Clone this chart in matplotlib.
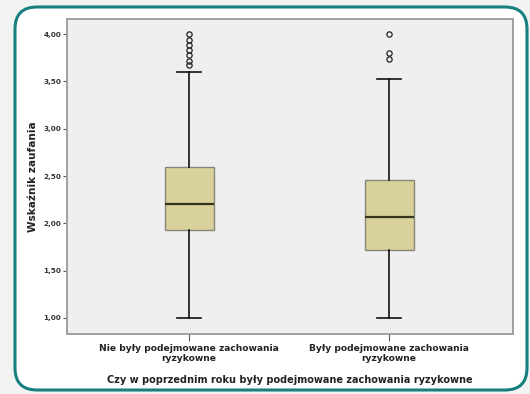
import matplotlib
matplotlib.use("Agg")
import matplotlib.pyplot as plt
from matplotlib.patches import FancyBboxPatch
from matplotlib.transforms import IdentityTransform

# Data: five-number summaries of the trust index per group
groups = ["Nie były podejmowane zachowania\nryzykowne",
          "Były podejmowane zachowania\nryzykowne"]
q1 = [1.93, 1.72]
median = [2.20, 2.07]
q3 = [2.60, 2.46]
whisker_low = [1.00, 1.00]
whisker_high = [3.60, 3.53]
outliers = [
    [4.00, 3.94, 3.89, 3.83, 3.78, 3.72, 3.67],
    [4.00, 3.80, 3.74],
]
y_ticks = [1.0, 1.5, 2.0, 2.5, 3.0, 3.5, 4.0]
y_tick_labels = ["1,00", "1,50", "2,00", "2,50", "3,00", "3,50", "4,00"]
y_label = "Wskaźnik zaufania"
x_label = "Czy w poprzednim roku były podejmowane zachowania ryzykowne"

W, H, DPI = 530, 394, 100
fig = plt.figure(figsize=(W / DPI, H / DPI), dpi=DPI, facecolor="#f1f2f2")

# Rounded white card with a teal border, kept behind the axes
card = FancyBboxPatch((15, 4), 512, 383,
                      boxstyle="round,pad=0,rounding_size=22",
                      transform=IdentityTransform(),
                      facecolor="white", edgecolor="#17807f", linewidth=2.2,
                      zorder=-10)
fig.patches.append(card)

ax = fig.add_axes([67 / W, 1 - 334 / H, (513 - 67) / W, (334 - 19) / H])
ax.set_zorder(5)
ax.set_facecolor("#efeff0")

stats = []
for i, g in enumerate(groups):
    stats.append(dict(label=g, med=median[i], q1=q1[i], q3=q3[i],
                      whislo=whisker_low[i], whishi=whisker_high[i],
                      fliers=outliers[i]))

ax.bxp(stats, positions=[1, 2], widths=0.245, patch_artist=True,
       boxprops=dict(facecolor="#d9d19c", edgecolor="#85857a", linewidth=1.0),
       medianprops=dict(color="#33331e", linewidth=1.6),
       whiskerprops=dict(color="#111111", linewidth=1.2),
       capprops=dict(color="#111111", linewidth=1.2),
       flierprops=dict(marker="o", markersize=3.8, markerfacecolor="none",
                       markeredgecolor="#222222", markeredgewidth=0.9))

ax.set_xlim(0.39, 2.62)
ax.set_ylim(0.83, 4.16)
ax.set_yticks(y_ticks)
ax.set_yticklabels(y_tick_labels, fontsize=5.2, fontweight="bold",
                   color="#333333")
ax.set_xticks([1, 2])
ax.set_xticklabels(groups, fontsize=6.6, fontweight="bold", color="#222222",
                   linespacing=1.15)
ax.tick_params(axis="y", length=3, width=0.8, color="#555555", pad=1)
ax.tick_params(axis="x", length=5, width=0.8, color="#555555", pad=2)

for s in ax.spines.values():
    s.set_color("#a0a0a0")
    s.set_linewidth(1.4)

ax.set_ylabel(y_label, fontsize=7.6, fontweight="bold", color="#222222",
              labelpad=4)
fig.text(290 / W, 1 - 380 / H, x_label, fontsize=7.0, fontweight="bold",
         color="#222222", ha="center", va="center", zorder=6)

fig.savefig("out.png", dpi=DPI, facecolor=fig.get_facecolor())
